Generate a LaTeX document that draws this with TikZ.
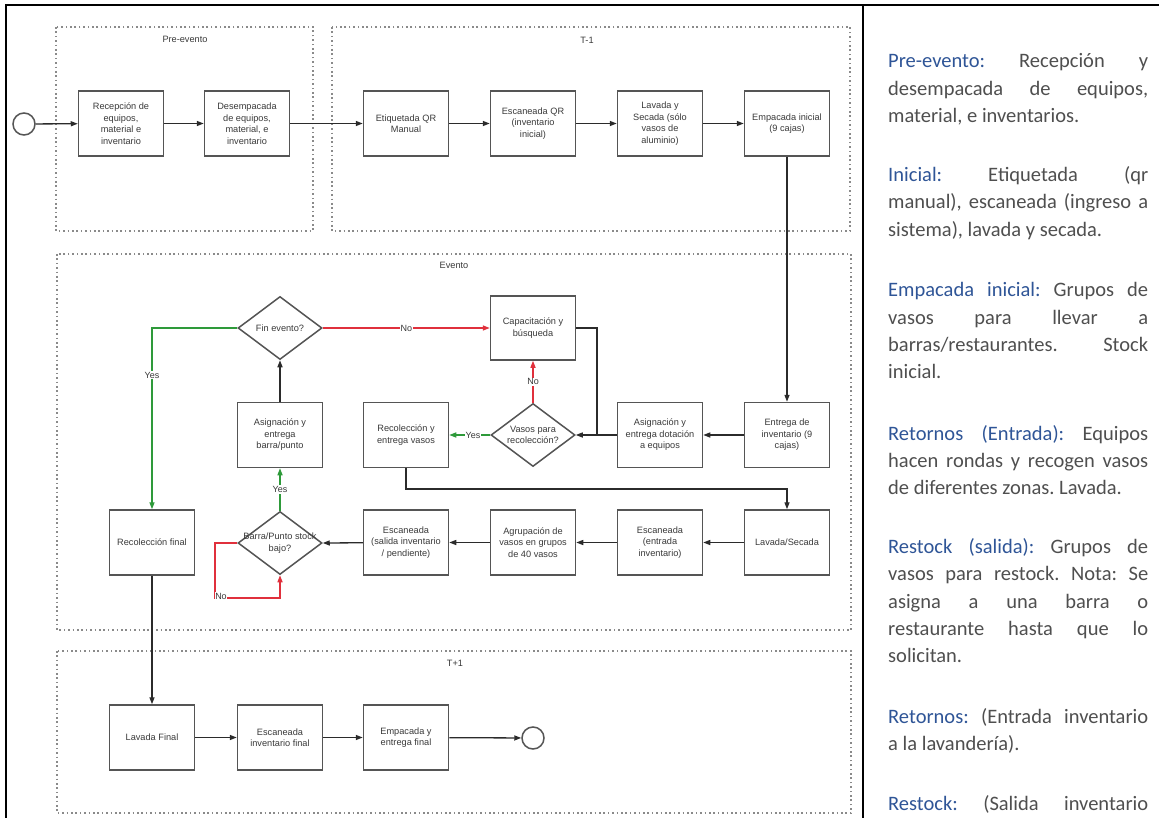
\documentclass[tikz,border=0pt]{standalone}
\usepackage{fontspec}
\setmainfont{Liberation Sans}
\newfontfamily\calibri{Carlito}
\usetikzlibrary{shapes.geometric,arrows.meta,calc}
\definecolor{txt}{HTML}{3A3A3A}
\definecolor{boxc}{HTML}{555555}
\definecolor{lnc}{HTML}{2B2B2B}
\definecolor{grn}{HTML}{2E9A3A}
\definecolor{rdd}{HTML}{E0303C}
\definecolor{blu}{HTML}{2F5597}
\definecolor{ptxt}{HTML}{4F4F4F}
\definecolor{dotc}{HTML}{8A8A8A}
\frenchspacing
\newcommand\jline[3]{\node[pline] (#1) at (888,#2) {\makebox[260pt][s]{#3}};}
\newcommand\nline[3]{\node[pline] (#1) at (888,#2) {#3};}
\begin{document}
\begin{tikzpicture}[x=1pt,y=-1pt,
  proc/.style={draw=boxc, line width=1.5pt, minimum width=85pt, minimum height=65pt,
    inner sep=1pt, align=center, font=\fontsize{9.2}{11.5}\selectfont, text=txt},
  dec/.style={draw=boxc, line width=1.5pt, diamond, minimum width=84pt, minimum height=63pt,
    inner sep=0pt},
  dtext/.style={align=center, font=\fontsize{9.2}{11.5}\selectfont, text=txt, inner sep=0pt},
  term/.style={draw=boxc, line width=1.5pt, circle, minimum size=22pt, inner sep=0pt},
  cont/.style={draw=dotc, line width=1.4pt, dash pattern=on 1.6pt off 2.8pt},
  clabel/.style={font=\fontsize{9.2}{11}\selectfont, text=txt, inner sep=0pt},
  arr/.style={draw=lnc, line width=1.3pt, -{Triangle[length=7pt,width=5pt]}},
  plain/.style={draw=lnc, line width=1.3pt},
  garr/.style={draw=grn, line width=1.3pt, -{Triangle[length=7pt,width=5pt]}},
  rarr/.style={draw=rdd, line width=1.3pt, -{Triangle[length=7pt,width=5pt]}},
  lab/.style={fill=white, inner sep=1pt, font=\fontsize{9}{10}\selectfont, text=txt},
  pline/.style={anchor=base west, inner sep=0pt, font=\calibri\fontsize{20.5}{27}\selectfont\frenchspacing, text=ptxt},
  frame/.style={draw=black, line width=2.3pt}
]
\useasboundingbox (0,0) rectangle (1159,818);
\fill[white] (0,0) rectangle (1159,818);

% outer frame
\draw[frame] (6,818) -- (6,5) -- (1159,5);
\draw[frame] (863,5) -- (863,818);

% containers
\draw[cont] (56,27) rectangle (313,231);
\draw[cont] (332,27) rectangle (850,231);
\draw[cont] (57,254) rectangle (851,630);
\draw[cont] (57,651) rectangle (851,813);
\node[clabel] (lpre) at (185,39) {Pre-evento};
\node[clabel] (lt1) at (587,40) {T-1};
\node[clabel] (lev) at (454,265) {Evento};
\node[clabel] (ltp) at (455,663) {T+1};

% top row
\node[term] (st) at (24,124) {};
\node[proc] (rec) at (121,123.5) {Recepción de\\equipos,\\material e\\inventario};
\node[proc] (des) at (247,123.5) {Desempacada\\de equipos,\\material, e\\inventario};
\node[proc] (eti) at (406,123.5) {Etiquetada QR\\Manual};
\node[proc] (esq) at (533,123.5) {Escaneada QR\\(inventario\\inicial)};
\node[proc] (lav) at (660,123.5) {Lavada y\\Secada (sólo\\vasos de\\aluminio)};
\node[proc] (emp) at (787,123.5) {Empacada inicial\\(9 cajas)};

% evento
\node[dec] (fin) at (280,328) {};
\node[dtext] (fint) at (fin.center) {Fin evento?};
\node[proc, minimum height=64pt] (cap) at (533,328) {Capacitación y\\búsqueda};
\node[proc] (asb) at (280,435) {Asignación y\\entrega\\barra/punto};
\node[proc] (rcv) at (406,435) {Recolección y\\entrega vasos};
\node[dec] (vas) at (533,435) {};
\node[dtext] (vast) at (vas.center) {Vasos para\\recolección?};
\node[proc] (asd) at (660,435) {Asignación y\\entrega dotación\\a equipos};
\node[proc] (ent) at (787,435) {Entrega de\\inventario (9\\cajas)};
\node[proc] (rcf) at (152,542.5) {Recolección final};
\node[dec] (bar) at (280,543) {};
\node[dtext] (bart) at (bar.center) {Barra/Punto stock\\bajo?};
\node[proc] (ess) at (406,542.5) {Escaneada\\(salida inventario\\/ pendiente)};
\node[proc] (agr) at (533,542.5) {Agrupación de\\vasos en grupos\\de 40 vasos};
\node[proc] (ese) at (660,542.5) {Escaneada\\(entrada\\inventario)};
\node[proc] (lsc) at (787,542.5) {Lavada/Secada};

% T+1
\node[proc] (lvf) at (152,737.5) {Lavada Final};
\node[proc] (esf) at (280,737.5) {Escaneada\\inventario final};
\node[proc] (epf) at (406,737.5) {Empacada y\\entrega final};
\node[term] (endc) at (533,738) {};

% connectors top row
\draw[arr] (st) -- (rec);
\draw[arr] (rec) -- (des);
\draw[arr] (des) -- (eti);
\draw[arr] (eti) -- (esq);
\draw[arr] (esq) -- (lav);
\draw[arr] (lav) -- (emp);
\draw[arr] (emp.south) -- (ent.north);

% evento connectors
\draw[arr] (ent) -- (asd);
\draw[arr] (asd) -- (vas.east);
\coordinate (j) at (597,435);
\draw[plain] (cap.east) -| (j);
\draw[garr] (vas.west) -- node[lab, pos=0.42] (ly1) {Yes} (rcv.east);
\draw[rarr] (vas.north) -- node[lab] (ln1) {No} (cap.south);
\coordinate (k) at (406,489);
\draw[arr] (rcv.south) -- (k) -| (lsc.north);
\draw[arr] (lsc) -- (ese);
\draw[arr] (ese) -- (agr);
\draw[arr] (agr) -- (ess);
\draw[arr] (ess) -- (bar.east);
\draw[garr] (bar.north) -- node[lab] (ly2) {Yes} (asb.south);
\coordinate (l1) at (215,543);
\coordinate (l2) at (215,598);
\draw[rarr] (bar.west) -- (l1) -- (l2) -| (bar.south);
\node[lab, inner sep=0.5pt] (ln3) at (221,596) {No};
\draw[arr] (asb.north) -- (fin.south);
\draw[rarr] (fin.east) -- node[lab, pos=0.5] (ln2) {No} (cap.west);
\coordinate (g1) at (152,328);
\draw[garr] (fin.west) -- (g1) -- node[lab, pos=0.26] (ly3) {Yes} (rcf.north);
\draw[arr] (rcf.south) -- (lvf.north);

% T+1 connectors
\draw[arr] (lvf) -- (esf);
\draw[arr] (esf) -- (epf);
\draw[arr] (epf) -- (endc);

% right panel
\jline{a1}{68}{{\color{blu}Pre-evento:} Recepción y}
\jline{a2}{96}{desempacada de equipos,}
\nline{a3}{123}{material, e inventarios.}
\jline{b1}{182}{{\color{blu}Inicial:} Etiquetada (qr}
\jline{b2}{209}{manual), escaneada (ingreso a}
\nline{b3}{237}{sistema), lavada y secada.}
\jline{c1}{297}{{\color{blu}Empacada inicial:} Grupos de}
\jline{c2}{324}{vasos para llevar a}
\jline{c3}{351}{barras/restaurantes. Stock}
\nline{c4}{378}{inicial.}
\jline{d1}{440}{{\color{blu}Retornos (Entrada):} Equipos}
\jline{d2}{467}{hacen rondas y recogen vasos}
\nline{d3}{494}{de diferentes zonas. Lavada.}
\jline{e1}{553}{{\color{blu}Restock (salida):} Grupos de}
\jline{e2}{580}{vasos para restock. Nota: Se}
\jline{e3}{608}{asigna a una barra o}
\jline{e4}{635}{restaurante hasta que lo}
\nline{e5}{662}{solicitan.}
\jline{f1}{723}{{\color{blu}Retornos:} (Entrada inventario}
\nline{f2}{750}{a la lavandería).}
\jline{g1t}{810}{{\color{blu}Restock:} (Salida inventario}
\end{tikzpicture}
\end{document}
